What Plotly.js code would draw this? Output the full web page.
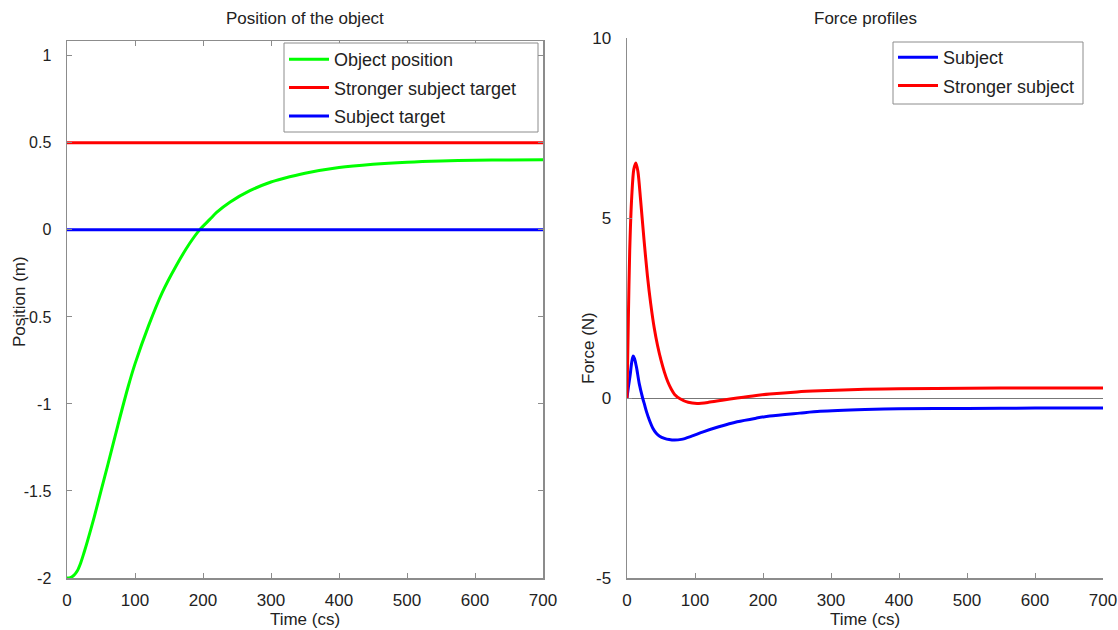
<!DOCTYPE html>
<html><head><meta charset="utf-8">
<script src="https://cdn.plot.ly/plotly-3.0.1.min.js"></script>
<style>html,body{margin:0;padding:0;background:#fff}#chart{width:1118px;height:630px}</style>
</head><body><div id="chart"></div>
<script>
// Left panel: position of the object
const posTime = [0, 5, 10, 15, 20, 25, 30, 40, 50, 60, 75, 90, 100, 120, 140, 160, 180, 195, 210, 220, 240, 269, 300, 318, 350, 400, 450, 500, 550, 600, 650, 700];
const objectPosition = [-2.0, -1.998, -1.985, -1.96, -1.915, -1.855, -1.79, -1.65, -1.50, -1.35, -1.12, -0.90, -0.77, -0.55, -0.36, -0.21, -0.08, 0.0, 0.06, 0.10, 0.16, 0.225, 0.275, 0.295, 0.325, 0.358, 0.377, 0.389, 0.396, 0.4, 0.402, 0.403];
const targetTime = [0, 700];
const strongerTarget = [0.5, 0.5];
const subjectTarget = [0, 0];

// Right panel: force profiles
const strongerTime = [0, 2, 4, 7, 10, 13, 16, 20, 25, 30, 35, 40, 45, 50, 55, 60, 65, 70, 78, 90, 103, 120, 140, 162, 190, 210, 250, 284, 350, 400, 500, 600, 700];
const strongerForce = [0, 2.2, 4.1, 5.6, 6.35, 6.53, 6.3, 5.5, 4.4, 3.4, 2.6, 1.95, 1.45, 1.05, 0.72, 0.45, 0.25, 0.1, -0.02, -0.12, -0.15, -0.12, -0.06, 0.0, 0.07, 0.11, 0.17, 0.20, 0.24, 0.26, 0.27, 0.28, 0.28];
const subjectTime = [0, 2, 4.4, 7, 9, 11, 14, 18, 23, 26, 29, 33, 38, 43, 48, 55, 62, 70, 80, 95, 112, 135, 162, 190, 210, 254, 284, 350, 400, 500, 600, 700];
const subjectForce = [0, 0.3, 0.6, 1.0, 1.17, 1.1, 0.85, 0.4, 0.0, -0.2, -0.4, -0.62, -0.84, -0.98, -1.06, -1.12, -1.155, -1.17, -1.15, -1.06, -0.94, -0.80, -0.66, -0.56, -0.50, -0.42, -0.37, -0.32, -0.30, -0.29, -0.28, -0.28];

// Tick labels
const xTicks = [0, 100, 200, 300, 400, 500, 600, 700];
const xTickText = ['0', '100', '200', '300', '400', '500', '600', '700'];
const posTicks = [1, 0.5, 0, -0.5, -1, -1.5, -2];
const posTickText = ['1', '0.5', '0', '-0.5', '-1', '-1.5', '-2'];
const forceTicks = [10, 5, 0, -5];
const forceTickText = ['10', '5', '0', '-5'];

const FONT = 'Liberation Sans, Arial, Helvetica, sans-serif';
const AX = '#8c8c8c';
const TXT = '#222';

const traces = [
  {x: posTime, y: objectPosition, type: 'scatter', mode: 'lines', name: 'Object position',
   line: {color: '#00ff00', width: 3, shape: 'spline', smoothing: 0.8}, xaxis: 'x', yaxis: 'y', legendgroup: 'a'},
  {x: targetTime, y: strongerTarget, type: 'scatter', mode: 'lines', name: 'Stronger subject target',
   line: {color: '#ff0000', width: 3}, xaxis: 'x', yaxis: 'y', legendgroup: 'b'},
  {x: targetTime, y: subjectTarget, type: 'scatter', mode: 'lines', name: 'Subject target',
   line: {color: '#0000ff', width: 3}, xaxis: 'x', yaxis: 'y', legendgroup: 'c'},
  {x: subjectTime, y: subjectForce, type: 'scatter', mode: 'lines', name: 'Subject',
   line: {color: '#0000ff', width: 3, shape: 'spline', smoothing: 0.8}, xaxis: 'x2', yaxis: 'y2', legend: 'legend2', legendgroup: 'd'},
  {x: strongerTime, y: strongerForce, type: 'scatter', mode: 'lines', name: 'Stronger subject',
   line: {color: '#ff0000', width: 3, shape: 'spline', smoothing: 0.8}, xaxis: 'x2', yaxis: 'y2', legend: 'legend2', legendgroup: 'e'}
];

const common = {
  showgrid: false, zeroline: false, showline: true, linecolor: AX, linewidth: 1.5,
  ticks: 'inside', ticklen: 5, tickcolor: AX, tickwidth: 1,
  tickfont: {family: FONT, size: 17, color: TXT}
};

const layout = {
  width: 1118, height: 630,
  margin: {l: 0, r: 0, t: 0, b: 0},
  paper_bgcolor: '#fff', plot_bgcolor: '#fff',
  font: {family: FONT, color: TXT},
  xaxis: Object.assign({}, common, {domain: [67/1118, 543/1118], range: [0, 700], tickvals: xTicks, ticktext: xTickText,
    mirror: 'ticks', anchor: 'y', ticklabelstandoff: 6,
    title: {text: 'Time (cs)', font: {family: FONT, size: 17, color: TXT}, standoff: 0}}),
  yaxis: Object.assign({}, common, {domain: [1 - 578/630, 1 - 41/630], range: [-2, 1.085], tickvals: posTicks, ticktext: posTickText,
    mirror: 'ticks', anchor: 'x', ticklabelstandoff: 11, tickfont: {family: FONT, size: 16, color: TXT}}),
  xaxis2: Object.assign({}, common, {domain: [627/1118, 1103/1118], range: [0, 700], tickvals: xTicks, ticktext: xTickText,
    anchor: 'y2', ticklabelstandoff: 6,
    title: {text: 'Time (cs)', font: {family: FONT, size: 17, color: TXT}, standoff: 0}}),
  yaxis2: Object.assign({}, common, {domain: [1 - 578/630, 1 - 38/630], range: [-5, 10], tickvals: forceTicks, ticktext: forceTickText,
    anchor: 'x2', ticklabelstandoff: 11, zeroline: true, zerolinecolor: '#777', zerolinewidth: 1}),
  showlegend: true,
  legend: {x: 284/1118, y: 1 - 41/630, xanchor: 'left', yanchor: 'top', bgcolor: 'rgba(0,0,0,0)',
    borderwidth: 0, font: {family: FONT, size: 18, color: TXT},
    traceorder: 'grouped', tracegroupgap: 2, itemwidth: 40},
  legend2: {x: 893/1118, y: 1 - 39/630, xanchor: 'left', yanchor: 'top', bgcolor: 'rgba(0,0,0,0)',
    borderwidth: 0, font: {family: FONT, size: 18, color: TXT},
    traceorder: 'grouped', tracegroupgap: 2, itemwidth: 40},
  shapes: [
    {type: 'rect', xref: 'paper', yref: 'paper', x0: 284/1118, x1: 538/1118, y0: 1 - 132/630, y1: 1 - 43/630,
     line: {color: AX, width: 1}, fillcolor: '#fff', layer: 'above'},
    {type: 'rect', xref: 'paper', yref: 'paper', x0: 893/1118, x1: 1083/1118, y0: 1 - 104/630, y1: 1 - 42/630,
     line: {color: AX, width: 1}, fillcolor: '#fff', layer: 'above'}
  ],
  annotations: [
    {text: 'Position of the object', xref: 'paper', yref: 'paper', x: 305/1118, y: 1 - 18/630,
     xanchor: 'center', yanchor: 'middle', showarrow: false, font: {family: FONT, size: 17, color: TXT}},
    {text: 'Force profiles', xref: 'paper', yref: 'paper', x: 865/1118, y: 1 - 18/630,
     xanchor: 'center', yanchor: 'middle', showarrow: false, font: {family: FONT, size: 17, color: TXT}},
    {text: 'Position (m)', xref: 'paper', yref: 'paper', x: 19/1118, y: 1 - 302/630, textangle: -90,
     xanchor: 'center', yanchor: 'middle', showarrow: false, font: {family: FONT, size: 17, color: TXT}},
    {text: 'Force (N)', xref: 'paper', yref: 'paper', x: 588/1118, y: 1 - 348/630, textangle: -90,
     xanchor: 'center', yanchor: 'middle', showarrow: false, font: {family: FONT, size: 17, color: TXT}}
  ]
};

Plotly.newPlot('chart', traces, layout, {displayModeBar: false, staticPlot: true});
</script>
</body></html>
